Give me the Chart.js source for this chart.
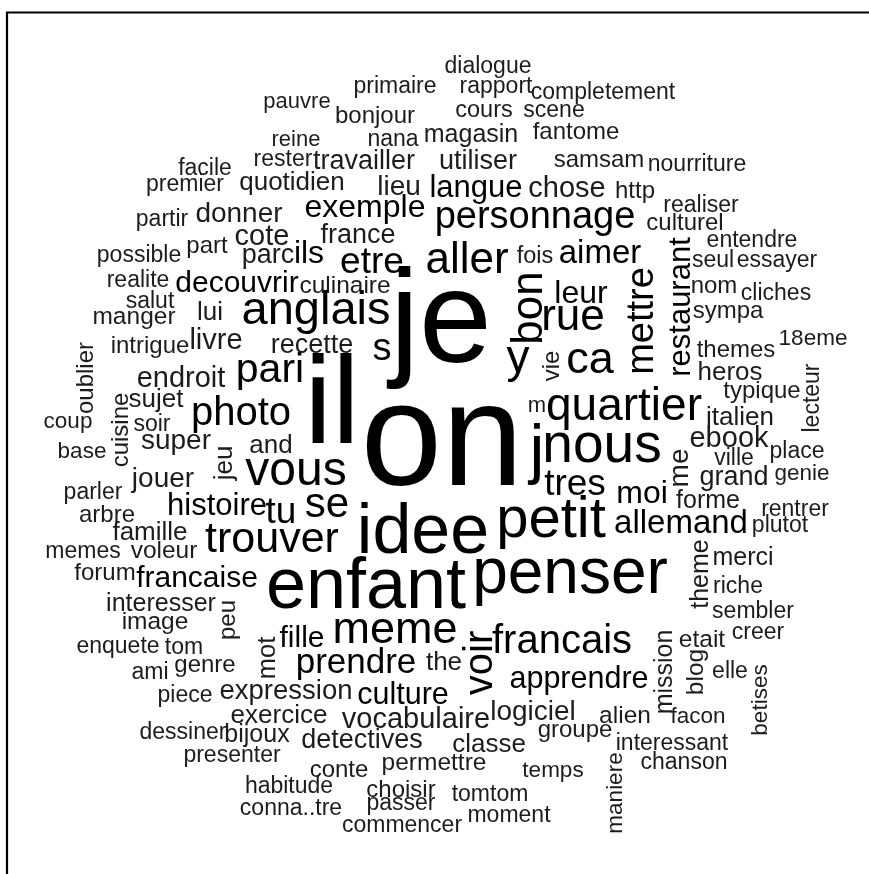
<!DOCTYPE html>
<html>
<head>
<meta charset="utf-8">
<script src="https://cdn.jsdelivr.net/npm/chart.js@4.4.1/dist/chart.umd.min.js"></script>
<style>
  html, body { margin: 0; padding: 0; background: #fff; }
  #wrap { width: 869px; height: 874px; position: relative; }
</style>
</head>
<body>
<div id="wrap"><canvas id="cloud"></canvas></div>
<script>
// word cloud: each word, its place in the layout (x, y), its weight and whether it is turned
const words = ['dialogue','primaire','rapport','completement','pauvre','bonjour','cours','scene','reine','nana',
  'magasin','fantome','rester','travailler','utiliser','samsam','nourriture','facile','premier','quotidien',
  'lieu','langue','chose','http','realiser','partir','donner','exemple','personnage','culturel',
  'france','cote','part','possible','parc','ils','etre','aller','fois','aimer',
  'entendre','seul','essayer','realite','decouvrir','culinaire','salut','lui','anglais','je',
  'il','on','j','nous','quartier','m','vie','y','bon','rue',
  'ca','mettre','restaurant','leur','sympa','nom','cliches','18eme','themes','heros',
  'typique','lecteur','italien','ebook','place','ville','me','grand','genie','moi',
  'forme','tres','rentrer','plutot','allemand','petit','merci','theme','riche','sembler',
  'creer','etait','mission','blog','elle','betises','alien','facon','groupe','interessant',
  'chanson','maniere','temps','moment','tomtom','commencer','passer','choisir','conna..tre','habitude',
  'conte','permettre','classe','detectives','presenter','dessiner','bijoux','exercice','vocabulaire','logiciel',
  'piece','expression','culture','apprendre','the','voir','francais','meme','prendre','fille',
  'mot','peu','genre','ami','tom','enquete','image','interesser','francaise','forum',
  'memes','voleur','famille','arbre','parler','histoire','tu','se','trouver','enfant',
  'penser','idee','vous','jeu','and','super','jouer','base','cuisine','coup',
  'soir','sujet','oublier','endroit','photo','pari','intrigue','livre','manger','recette','s'];

const posX = [488,395,496,603,297,375,484,554,296,393,
  471,576,283,364,478,599,697,205,185,292,
  399,476,567,635,701,162,239,365,535,685,
  358,262,207,139,268,309,372,467,535,600,
  752,713,777,138,237,345,150,210,316,441,
  332,442,537,602,624,537,559,518,542,573,
  590,653,690,581,728,714,776,813,736,730,
  762,819,740,729,797,734,688,734,802,642,
  708,575,795,780,681,551,743,708,738,753,
  758,702,672,703,730,767,625,698,575,672,
  684,622,553,509,490,402,401,401,291,289,
  339,434,489,362,232,183,257,279,416,533,
  185,286,403,579,444,492,562,395,356,302,
  275,235,205,150,184,118,155,161,197,105,
  83,164,150,107,93,217,281,327,272,366,
  570,423,296,232,271,176,163,82,128,68,
  152,156,93,181,241,270,150,216,134,312,382];

const posY = [73,93,93,99,108,123,117,117,146,146,
  142,139,166,169,169,167,171,175,191,190,
  195,197,197,198,212,226,222,217,228,230,
  243,245,253,262,263,263,273,273,263,263,
  247,267,267,287,292,293,308,320,324,362,
  443,485,471,462,420,412,366,372,308,330,
  373,321,307,303,318,293,300,345,357,380,
  398,398,425,447,458,465,468,485,480,503,
  508,495,516,532,533,537,565,574,593,618,
  639,647,672,672,678,700,723,723,737,750,
  769,793,777,822,801,832,810,797,815,793,
  777,770,752,748,762,739,742,723,728,720,
  702,699,704,688,670,663,653,643,673,647,
  658,620,672,679,654,653,629,611,587,580,
  558,558,540,522,499,515,523,517,552,608,
  593,553,485,463,453,449,487,458,430,428,
  431,407,378,387,425,382,353,349,324,353,360];

const freq = [23,23,23,23,22,24,23.5,23,22,23,
  25,24,23,27,27,24,23,23,23,26,
  28,31,29,24,23,23,28,32,38,24,
  27,29,24,23,27,32,37,44,23.5,33,
  23,23,23,23,30,24.5,23,26,47,131,
  125,146,67,55,46,22,24,46,44,44,
  45,38,31,32,24,24,23,22.5,24,26,
  24,23,26,29,23,23,28,27,22.5,32,
  25,37,23,23,33,58,25,25,23,23,
  23,24.5,25,24.5,23,22.5,24.5,22.5,24,23,
  23,22.5,22.5,23,23,23,23,24,23,23,
  24,24.5,26,27,23,23,25,26,29,28,
  23,27.5,30.5,30.5,26,40,40,45,35,30,
  25.5,24,24,23,23,23,24.5,25,30,24,
  23,24.5,26,24,23,31,37,42,43,72,
  64,70,48,26,26,28,28,22.5,24,22.5,
  23,26,24,29,40,41,24,29,24.5,27,38];

// words set bottom-to-top
const vertical = ['vie','bon','mettre','restaurant','lecteur','me','theme','mission','blog','betises',
  'maniere','voir','mot','peu','jeu','cuisine','oublier'];

const points = words.map((w, i) => ({ x: posX[i], y: posY[i] }));

const framePlugin = {
  id: 'frame',
  beforeDraw(chart) {
    const ctx = chart.ctx;
    ctx.save();
    ctx.fillStyle = '#fff';
    ctx.fillRect(0, 0, chart.width, chart.height);
    ctx.strokeStyle = '#000';
    ctx.lineWidth = 2.2;
    ctx.beginPath();
    ctx.moveTo(7, chart.height + 5);
    ctx.lineTo(7, 12.5);
    ctx.lineTo(chart.width + 5, 12.5);
    ctx.stroke();
    ctx.restore();
  }
};

const wordPlugin = {
  id: 'wordLabels',
  afterDatasetsDraw(chart) {
    const ctx = chart.ctx;
    const meta = chart.getDatasetMeta(0);
    meta.data.forEach((pt, i) => {
      ctx.save();
      ctx.translate(pt.x, pt.y);
      if (vertical.includes(words[i])) ctx.rotate(-Math.PI / 2);
      ctx.font = freq[i] + 'px "Liberation Sans", Arial, Helvetica, sans-serif';
      ctx.fillStyle = freq[i] < 30 ? '#1c1c1c' : '#000';
      ctx.textAlign = 'center';
      ctx.textBaseline = 'alphabetic';
      ctx.fillText(words[i], 0, 0);
      ctx.restore();
    });
  }
};

new Chart(document.getElementById('cloud'), {
  type: 'scatter',
  data: {
    datasets: [{
      label: 'words',
      data: points,
      pointRadius: 0,
      pointHoverRadius: 0
    }]
  },
  options: {
    responsive: true,
    maintainAspectRatio: false,
    animation: false,
    layout: { padding: 0 },
    scales: {
      x: { type: 'linear', min: 0, max: 869, display: false },
      y: { type: 'linear', min: 0, max: 874, reverse: true, display: false }
    },
    plugins: {
      legend: { display: false },
      tooltip: { enabled: false }
    }
  },
  plugins: [framePlugin, wordPlugin]
});
</script>
</body>
</html>
